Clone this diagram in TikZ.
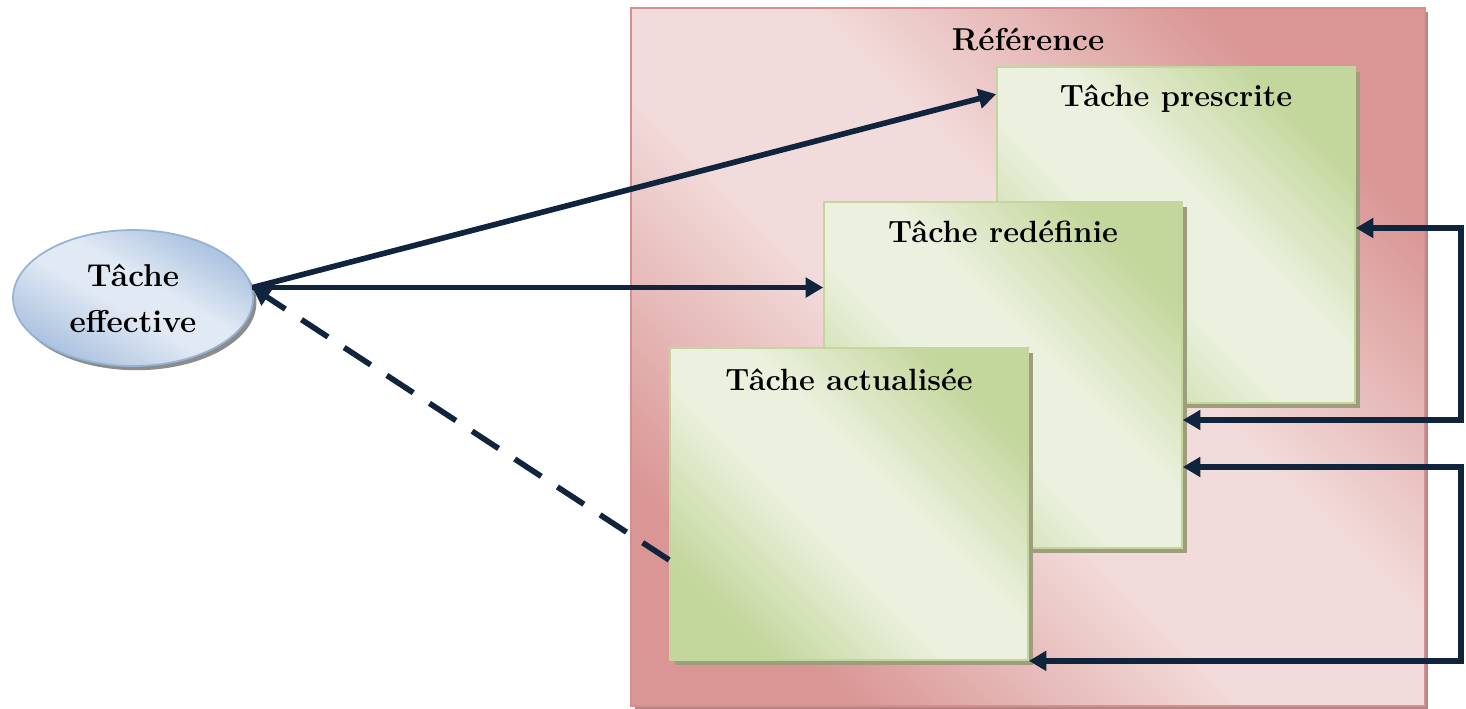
\documentclass[tikz,border=0pt]{standalone}
\usepackage{xcolor}
\usetikzlibrary{arrows.meta,shadows,shapes.geometric}
\definecolor{refdark}{HTML}{D99694}
\definecolor{reflight}{HTML}{F2DCDB}
\definecolor{refline}{HTML}{D48F8E}
\definecolor{refshadow}{HTML}{B58484}
\definecolor{taskdark}{HTML}{C3D69B}
\definecolor{tasklight}{HTML}{EBF1DE}
\definecolor{taskshadow}{HTML}{9E9E7E}
\definecolor{effdark}{HTML}{A9C1DF}
\definecolor{efflight}{HTML}{E1E9F4}
\definecolor{effline}{HTML}{95B3D7}
\definecolor{effshadow}{HTML}{8C8C8C}
\definecolor{linkblue}{HTML}{10243E}

\pgfdeclareverticalshading{refshade}{100bp}{color(0bp)=(refdark); color(25bp)=(refdark);
  color(44bp)=(reflight); color(56bp)=(reflight); color(75bp)=(refdark); color(100bp)=(refdark)}
\pgfdeclareverticalshading{taskshade}{100bp}{color(0bp)=(taskdark); color(25bp)=(taskdark);
  color(44bp)=(tasklight); color(56bp)=(tasklight); color(75bp)=(taskdark); color(100bp)=(taskdark)}
\pgfdeclareverticalshading{effshade}{100bp}{color(0bp)=(effdark); color(25bp)=(effdark);
  color(46bp)=(efflight); color(56bp)=(efflight); color(75bp)=(effdark); color(100bp)=(effdark)}

\tikzset{
  task/.style={draw=taskdark, line width=1pt, minimum width=7.16cm,
    shade, shading=taskshade, shading angle=-45,
    drop shadow={shadow xshift=2.6pt, shadow yshift=-2.6pt, fill=taskshadow, opacity=1}},
  title/.style={font=\bfseries\fontsize{17.5}{21}\selectfont, inner sep=0pt},
  link/.style={draw=linkblue, line width=3.2pt, -{Triangle[length=10pt,width=11pt]}},
  backlink/.style={link, {Triangle[length=10pt,width=11pt]}-{Triangle[length=10pt,width=11pt]}},
}

\begin{document}
\begin{tikzpicture}[x=0.02cm, y=-0.02cm]
  \useasboundingbox (0,0) rectangle (1466,708);

  \node (ref) [draw=refline, line width=1pt, minimum width=15.88cm, minimum height=13.96cm,
    shade, shading=refshade, shading angle=-45,
    drop shadow={shadow xshift=2pt, shadow yshift=-2pt, fill=refshadow, opacity=1}] at (1028,357) {};
  \node (ref-title) [title, font=\bfseries\fontsize{18}{21}\selectfont] at ([yshift=-0.64cm]ref.north) {Référence};

  \node (pre) [task, minimum height=6.72cm] at (1176,235) {};
  \node (pre-title) [title] at ([yshift=-0.64cm]pre.north) {Tâche prescrite};
  \node (red) [task, minimum height=6.92cm] at (1003,375) {};
  \node (red-title) [title] at ([yshift=-0.62cm]red.north) {Tâche redéfinie};
  \node (act) [task, minimum height=6.24cm] at (849,504) {};
  \node (act-title) [title] at ([yshift=-0.66cm]act.north) {Tâche actualisée};

  \node (eff) [ellipse, draw=effline, line width=1pt, inner sep=0pt,
    minimum width=4.8cm, minimum height=2.72cm, align=center,
    font=\bfseries\fontsize{18}{26}\selectfont,
    shade, shading=effshade, shading angle=-30,
    drop shadow={shadow xshift=2pt, shadow yshift=-2.4pt, fill=effshadow, opacity=1}]
    at (133,298) {Tâche\\effective};

  \draw[link] (eff.5) -- ([yshift=-0.56cm]pre.north west);
  \draw[link] (eff.5) -- (eff.5 -| red.west);
  \draw[link, dash pattern=on 18pt off 11pt] ([yshift=-1.12cm]act.west) -- (eff.5);
  \draw[backlink] ([yshift=0.14cm]pre.east) -- ++(105,0) |- ([yshift=-0.9cm]red.east);
  \draw[backlink] ([yshift=-1.84cm]red.east) -- ++(278,0) |- (act.south east);
\end{tikzpicture}
\end{document}
